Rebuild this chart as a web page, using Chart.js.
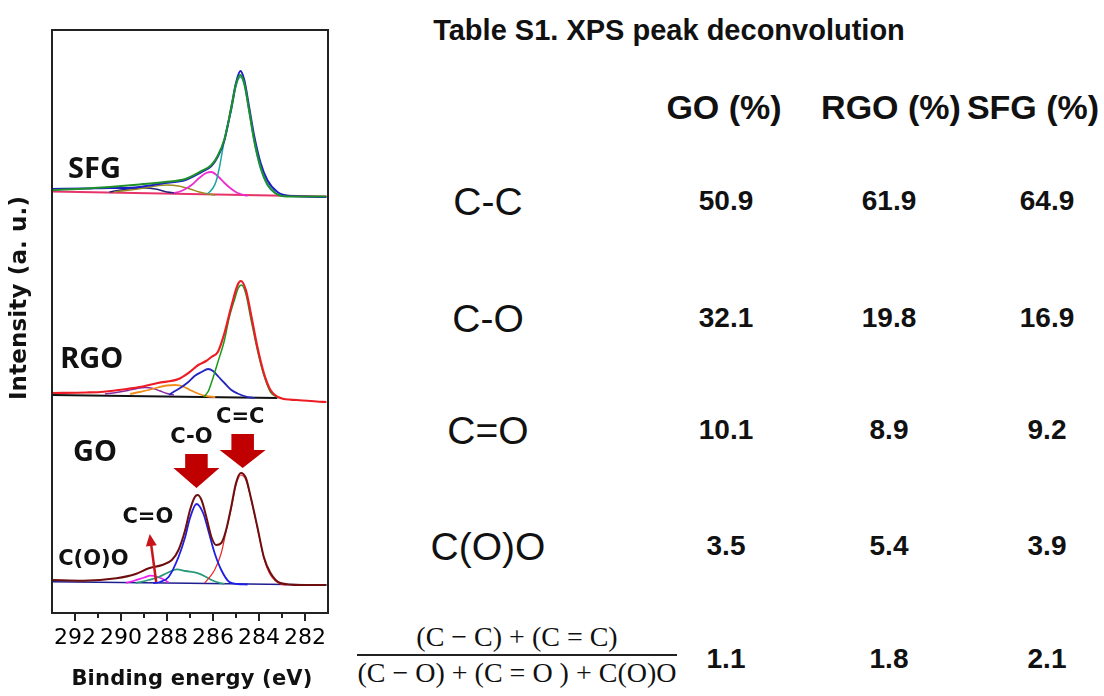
<!DOCTYPE html>
<html>
<head>
<meta charset="utf-8">
<script src="https://cdn.jsdelivr.net/npm/chart.js@4.4.1/dist/chart.umd.min.js"></script>
<style>
  html, body { margin: 0; padding: 0; background: #fff; }
  body { width: 1104px; height: 696px; position: relative; overflow: hidden; color: #111; }
  #xps { position: absolute; left: 0; top: 0; }
  .t { position: absolute; white-space: nowrap; transform: translate(-50%, -50%); line-height: 1; font-family: "Liberation Sans", Arial, sans-serif; }
  .title { font-size: 29px; font-weight: bold; }
  .head { font-size: 34px; font-weight: bold; }
  .bond { font-size: 39px; }
  .val { font-size: 28px; font-weight: bold; }
  .frac { font-family: "Liberation Serif", "DejaVu Serif", serif; font-size: 28px; }
  .bar { position: absolute; height: 2px; background: #222; }
</style>
</head>
<body>
<canvas id="xps" width="340" height="696"></canvas>
<div id="table"></div>
<script>
// C1s spectra, [binding energy eV, intensity a.u.] (panels stacked: GO bottom, RGO middle, SFG top)
const sfgRaw = [[293, 424], [291.5, 424.5], [290.5, 425], [289.8, 425], [289.2, 426], [288.6, 428], [288.1, 430], [287.2, 433], [286.5, 441], [286.07, 447], [285.8, 456], [285.5, 473], [285.2, 506], [285.0, 530], [284.81, 542], [284.64, 533], [284.43, 506], [284.2, 476], [283.93, 450], [283.64, 433], [283.2, 421], [282.65, 417], [281.07, 416]];
const sfgFit = [[293, 423], [291.5, 424.5], [290.5, 426], [289.2, 428.5], [288.1, 431], [287.2, 434], [286.5, 442], [286.07, 448], [285.8, 457], [285.5, 474], [285.2, 506], [285.0, 529], [284.81, 538], [284.64, 530], [284.43, 503], [284.2, 472], [283.93, 446], [283.64, 429], [283.3, 420], [283.0, 417], [282.5, 416.5], [281.07, 416.5]];
const sfgCC = [[286.25, 419], [286.0, 425], [285.86, 432], [285.7, 448], [285.57, 465], [285.4, 485], [285.2, 503], [285.0, 527], [284.81, 536], [284.64, 528], [284.43, 501], [284.2, 470], [283.93, 444], [283.64, 428], [283.3, 420], [283.0, 417]];
const sfgCO = [[287.7, 420], [287.5, 421], [287.2, 424], [286.93, 428], [286.6, 435], [286.3, 440], [286.07, 441], [285.8, 437], [285.5, 430], [285.2, 424], [284.93, 420], [284.5, 417]];
const sfgCdO = [[290.3, 421], [289.6, 423], [289.0, 425], [288.5, 427], [288.0, 428], [287.5, 427], [287.0, 424], [286.6, 421], [286.2, 419], [285.9, 418]];
const sfgCOO = [[290.5, 421], [290.0, 423], [289.5, 424.5], [289.0, 425], [288.5, 424], [288.0, 421], [287.6, 420]];
const sfgBase = [[293, 421.5], [281.07, 416.5]];

const rgoRaw = [[293, 220], [291.5, 220.5], [290.9, 221], [290.1, 223], [289.2, 226], [288.4, 230], [287.5, 234], [287.07, 240], [286.64, 248], [286.3, 252], [286.07, 256], [285.79, 261], [285.5, 280], [285.21, 306], [284.93, 328], [284.79, 332], [284.57, 323], [284.36, 300], [284.07, 266], [283.79, 240], [283.5, 223], [283.07, 215], [282.36, 213], [281.5, 211.5], [281.07, 211]];
const rgoCC = [[286.4, 216], [286.2, 222], [286.0, 235], [285.8, 250], [285.5, 273], [285.3, 295], [285.07, 313], [284.9, 325], [284.76, 328], [284.57, 319], [284.36, 295], [284.07, 263], [283.79, 238], [283.5, 221], [283.21, 216], [283.0, 215]];
const rgoCO = [[287.9, 218], [287.79, 220], [287.5, 224], [287.07, 231], [286.8, 237], [286.5, 241], [286.21, 244], [286.0, 242], [285.75, 236], [285.5, 230], [285.2, 223], [284.93, 219.5], [284.5, 216], [284.2, 215]];
const rgoCdO = [[289.6, 219], [289.2, 221], [288.8, 223], [288.4, 225.5], [288.0, 227.5], [287.64, 228], [287.3, 226.5], [287.0, 223], [286.6, 219], [286.3, 217], [285.9, 216]];
const rgoCOO = [[290.7, 219], [290.2, 220.5], [289.7, 222.5], [289.3, 224.5], [288.93, 225.5], [288.6, 224.5], [288.3, 222], [288.0, 219.5], [287.7, 218]];
const rgoBase = [[293, 218], [283.2, 215]];

const goRaw = [[293, 33], [291.64, 32.3], [290.2, 34.7], [289.36, 39], [288.79, 44.7], [288.21, 48], [287.79, 53], [287.5, 63], [287.21, 83], [287.0, 103], [286.79, 116], [286.67, 118], [286.5, 113], [286.29, 96], [286.07, 76], [285.86, 68], [285.64, 70], [285.43, 83], [285.21, 106], [285.0, 130], [284.79, 140], [284.57, 135], [284.36, 116], [284.07, 86], [283.79, 56], [283.5, 40], [283.07, 30], [282.21, 28], [281.07, 28]];
const goCO = [[288.6, 30], [288.3, 31], [287.93, 36], [287.5, 56], [287.21, 76], [287.0, 95], [286.72, 109], [286.43, 100], [286.21, 83], [285.93, 60], [285.64, 43], [285.29, 31], [284.93, 29], [284.5, 28.5]];
const goCC = [[286.36, 30], [285.93, 43], [285.64, 60], [285.43, 82], [285.21, 104], [285.0, 128], [284.79, 138], [284.57, 133], [284.36, 115], [284.07, 85], [283.79, 55], [283.5, 38], [283.07, 29], [282.8, 28]];
const goCdO = [[289.36, 30], [288.8, 33], [288.36, 36], [288.0, 40], [287.57, 43.7], [287.2, 42], [286.64, 39.7], [286.3, 36], [286.07, 33], [285.7, 30], [285.5, 29]];
const goCOO = [[289.78, 30], [289.4, 32.5], [289.0, 35.5], [288.71, 37.3], [288.4, 36], [288.1, 33], [287.93, 30.5]];
const goBase = [[293, 31.3], [281.07, 28]];

const xTicks = [282, 283, 284, 285, 286, 287, 288, 289, 290, 291, 292];

// Table S1
const tableCols = ['GO (%)', 'RGO (%)', 'SFG (%)'];
const bondLabels = ['C-C', 'C-O', 'C=O', 'C(O)O'];
const goPct = [50.9, 32.1, 10.1, 3.5, 1.1];
const rgoPct = [61.9, 19.8, 8.9, 5.4, 1.8];
const sfgPct = [64.9, 16.9, 9.2, 3.9, 2.1];

// annotations, in axis units
const blockArrows = [
  { x: 286.72, top: 159, neck: 145, tip: 125 },
  { x: 284.71, top: 179, neck: 163, tip: 145 }
];
const thinArrow = { x0: 288.47, y0: 31, x1: 288.75, y1: 79 };
const plotLabels = [
  { text: 'SFG', x: 292.3, y: 443, font: 'bold 29px "Noto Sans", sans-serif' },
  { text: 'RGO', x: 292.64, y: 253, font: 'bold 29px "Noto Sans", sans-serif' },
  { text: 'GO', x: 292.09, y: 160, font: 'bold 29px "Noto Sans", sans-serif' },
  { text: 'C-O', x: 287.86, y: 175.5, font: 'bold 21px "DejaVu Sans", sans-serif' },
  { text: 'C=C', x: 285.87, y: 195.5, font: 'bold 21px "DejaVu Sans", sans-serif' },
  { text: 'C=O', x: 289.94, y: 95.5, font: 'bold 21px "DejaVu Sans", sans-serif' },
  { text: 'C(O)O', x: 292.73, y: 53, font: 'bold 21px "DejaVu Sans", sans-serif' }
];

function line(points, color, width) {
  return {
    data: points.map(p => ({ x: p[0], y: p[1] })),
    borderColor: color,
    borderWidth: width,
    pointRadius: 0,
    showLine: true,
    fill: false,
    cubicInterpolationMode: 'monotone'
  };
}

// draw text stretched to a given length with letter spacing
function fitText(ctx, text, cx, cy, len) {
  ctx.letterSpacing = '0px';
  const w = ctx.measureText(text).width;
  ctx.letterSpacing = Math.max(0, (len - w) / (text.length - 1)) + 'px';
  ctx.fillText(text, cx, cy);
  ctx.letterSpacing = '0px';
}

const decor = {
  id: 'decor',
  afterDatasetsDraw(chart) {
    const { ctx, scales: { x, y } } = chart;
    ctx.save();
    // big red arrows
    ctx.fillStyle = '#c00000';
    blockArrows.forEach(a => {
      const cx = x.getPixelForValue(a.x);
      const hs = Math.abs(x.getPixelForValue(a.x + 0.49) - cx);
      const hh = Math.abs(x.getPixelForValue(a.x + 1.0) - cx);
      const t = y.getPixelForValue(a.top), n = y.getPixelForValue(a.neck), p = y.getPixelForValue(a.tip);
      ctx.beginPath();
      ctx.moveTo(cx - hs, t);
      ctx.lineTo(cx + hs, t);
      ctx.lineTo(cx + hs, n);
      ctx.lineTo(cx + hh, n);
      ctx.lineTo(cx, p);
      ctx.lineTo(cx - hh, n);
      ctx.lineTo(cx - hs, n);
      ctx.closePath();
      ctx.fill();
    });
    // thin arrow to C=O
    const x0 = x.getPixelForValue(thinArrow.x0), y0 = y.getPixelForValue(thinArrow.y0);
    const x1 = x.getPixelForValue(thinArrow.x1), y1 = y.getPixelForValue(thinArrow.y1);
    const ang = Math.atan2(y1 - y0, x1 - x0);
    ctx.strokeStyle = '#c8141a';
    ctx.fillStyle = '#c8141a';
    ctx.lineWidth = 2.5;
    ctx.beginPath();
    ctx.moveTo(x0, y0);
    ctx.lineTo(x1 - 6 * Math.cos(ang), y1 - 6 * Math.sin(ang));
    ctx.stroke();
    ctx.beginPath();
    ctx.moveTo(x1, y1);
    ctx.lineTo(x1 - 12 * Math.cos(ang) + 5.5 * Math.sin(ang), y1 - 12 * Math.sin(ang) - 5.5 * Math.cos(ang));
    ctx.lineTo(x1 - 12 * Math.cos(ang) - 5.5 * Math.sin(ang), y1 - 12 * Math.sin(ang) + 5.5 * Math.cos(ang));
    ctx.closePath();
    ctx.fill();
    // labels
    ctx.fillStyle = '#111';
    ctx.textBaseline = 'middle';
    ctx.textAlign = 'left';
    plotLabels.forEach(l => {
      ctx.font = l.font;
      ctx.fillText(l.text, x.getPixelForValue(l.x), y.getPixelForValue(l.y));
    });
    ctx.restore();
  },
  afterDraw(chart) {
    const { ctx, chartArea: a, scales: { x } } = chart;
    ctx.save();
    ctx.strokeStyle = '#222';
    ctx.lineWidth = 2;
    ctx.strokeRect(a.left, a.top, a.right - a.left, a.bottom - a.top);
    xTicks.forEach(v => {
      const px = Math.round(x.getPixelForValue(v));
      ctx.beginPath();
      ctx.moveTo(px, a.bottom);
      ctx.lineTo(px, a.bottom + (v % 2 === 0 ? 8 : 5));
      ctx.stroke();
    });
    ctx.fillStyle = '#111';
    ctx.textAlign = 'center';
    ctx.textBaseline = 'middle';
    ctx.font = 'bold 21px "DejaVu Sans", sans-serif';
    fitText(ctx, 'Binding energy (eV)', 192, 680, 241);
    ctx.translate(20, 298);
    ctx.rotate(-Math.PI / 2);
    ctx.font = 'bold 23px "DejaVu Sans", sans-serif';
    fitText(ctx, 'Intensity (a. u.)', 0, 0, 204);
    ctx.restore();
  }
};

new Chart(document.getElementById('xps'), {
  type: 'scatter',
  data: {
    datasets: [
      line(sfgFit, '#1f8f2a', 2),
      line(sfgRaw, '#1c1ccc', 2),
      line(sfgCC, '#1fa5a5', 1.5),
      line(sfgCO, '#ee2ccf', 1.8),
      line(sfgCdO, '#9a8a1e', 1.5),
      line(sfgCOO, '#24247a', 1.5),
      line(sfgBase, '#e8336a', 1.8),
      line(rgoRaw, '#ee1c25', 2.2),
      line(rgoCC, '#1a9a1a', 1.5),
      line(rgoCO, '#2424c0', 1.8),
      line(rgoCdO, '#f08c1c', 1.8),
      line(rgoCOO, '#8a2aa0', 1.5),
      line(rgoBase, '#111111', 2),
      line(goRaw, '#6e0f0f', 2),
      line(goCO, '#1e1ee6', 1.8),
      line(goCC, '#ee2222', 1.2),
      line(goCdO, '#2a9a7a', 1.8),
      line(goCOO, '#ee22ee', 1.8),
      line(goBase, '#1e1e90', 1.5)
    ]
  },
  options: {
    responsive: false,
    animation: false,
    events: [],
    layout: { padding: { top: 30, right: 9, left: 0, bottom: 0 } },
    plugins: { legend: { display: false }, tooltip: { enabled: false } },
    scales: {
      x: {
        type: 'linear',
        reverse: true,
        min: 281,
        max: 293,
        afterFit: s => { s.height = 83; },
        border: { display: false },
        grid: { display: false, drawTicks: false },
        ticks: {
          stepSize: 1,
          autoSkip: false,
          maxRotation: 0,
          padding: 12,
          color: '#000',
          font: { family: '"DejaVu Sans", sans-serif', size: 22 },
          callback: v => (v % 2 === 0 && v > 281 && v < 293 ? String(v) : '')
        }
      },
      y: {
        min: 0,
        max: 583,
        afterFit: s => { s.width = 52; },
        border: { display: false },
        grid: { display: false },
        ticks: { display: false }
      }
    }
  },
  plugins: [decor]
});

// table on the right
const table = document.getElementById('table');
function put(text, cls, cx, cy) {
  const d = document.createElement('div');
  d.className = 't ' + cls;
  d.textContent = text;
  d.style.left = cx + 'px';
  d.style.top = cy + 'px';
  table.appendChild(d);
}
const headX = [724, 891, 1033];
const valX = [726, 889, 1047];
const rowY = [201, 318, 430, 546, 659];
put('Table S1. XPS peak deconvolution', 'title', 669, 30);
tableCols.forEach((c, i) => put(c, 'head', headX[i], 107));
bondLabels.forEach((b, i) => put(b, 'bond', 488, rowY[i]));
[goPct, rgoPct, sfgPct].forEach((col, j) => {
  col.forEach((v, i) => put(v.toFixed(1), 'val', valX[j], rowY[i]));
});
put('(C \u2212 C) + (C = C)', 'frac', 517, 637);
put('(C \u2212 O) + (C = O ) +  C(O)O', 'frac', 517, 673);
const bar = document.createElement('div');
bar.className = 'bar';
bar.style.left = '357px';
bar.style.top = '654px';
bar.style.width = '320px';
table.appendChild(bar);
</script>
</body>
</html>
